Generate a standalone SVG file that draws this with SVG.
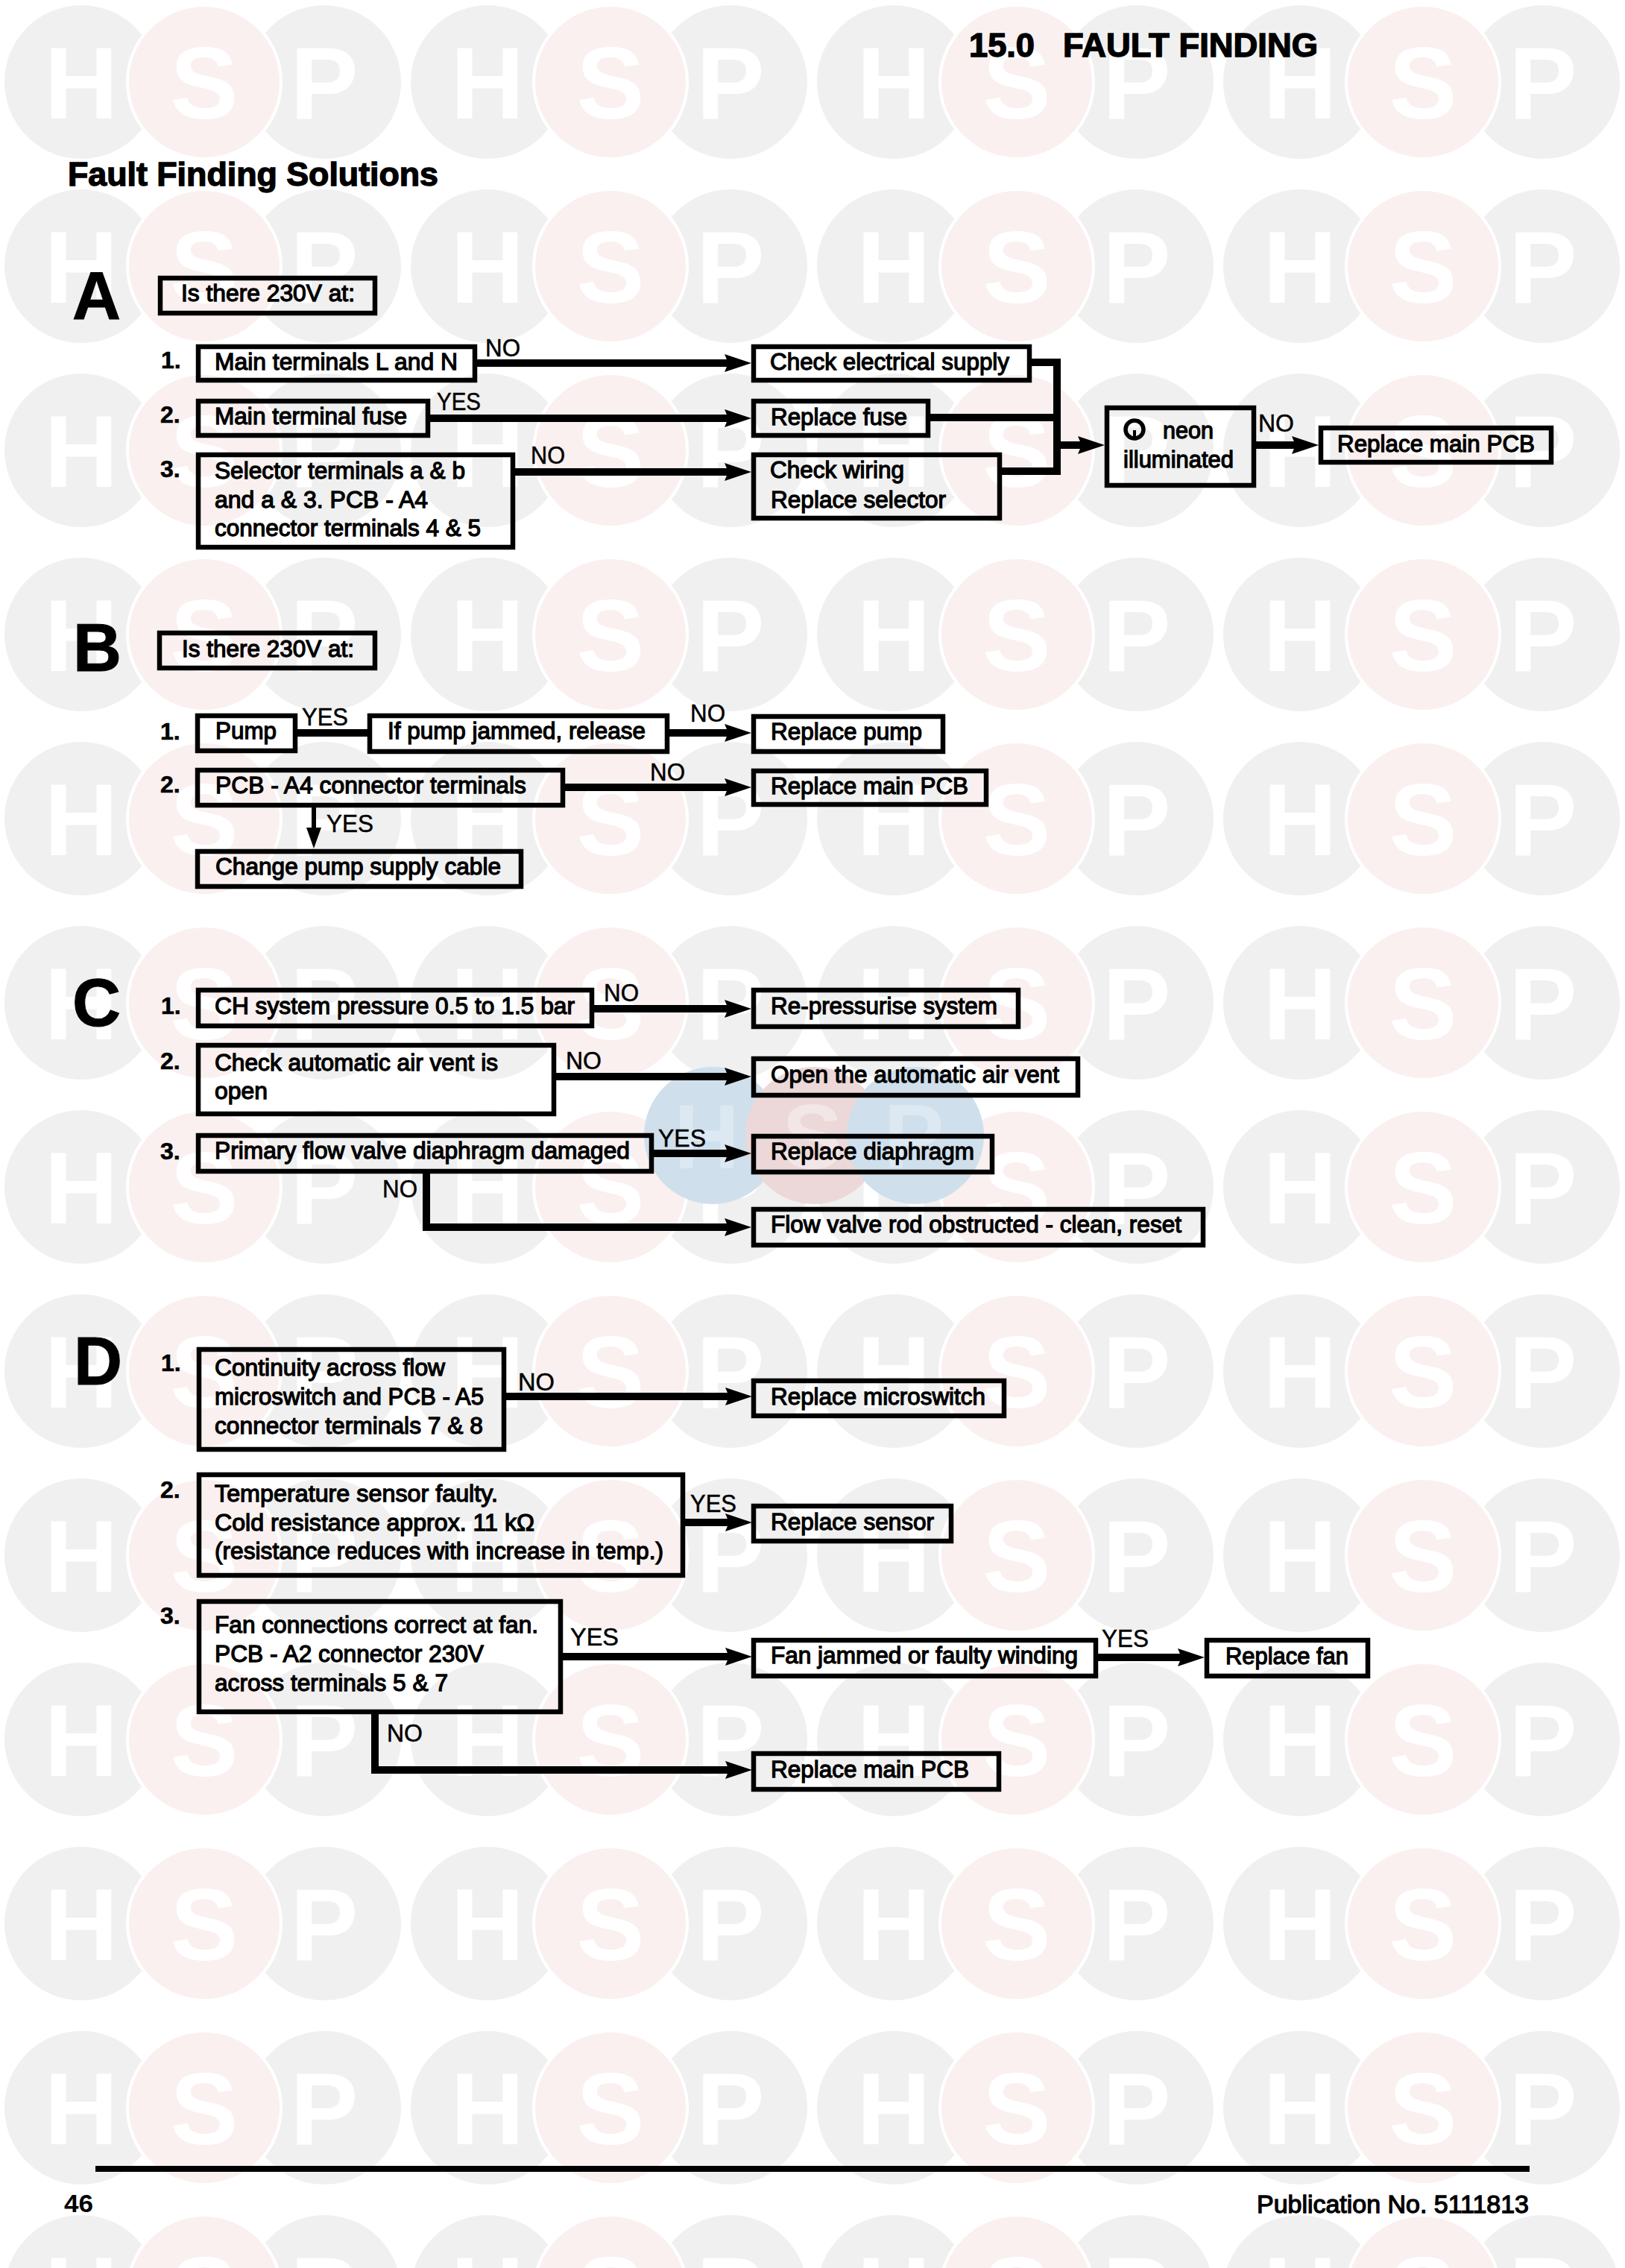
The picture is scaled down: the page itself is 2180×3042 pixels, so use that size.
<svg xmlns="http://www.w3.org/2000/svg" xmlns:xlink="http://www.w3.org/1999/xlink" width="2180" height="3042" viewBox="0 0 2180 3042">
<style>
text{font-family:"Liberation Sans",Arial,sans-serif;fill:#000}
.t{font-size:32px;stroke:#000;stroke-width:1.3px}
.l{font-size:33px;stroke:#000;stroke-width:.5px}
.n{font-size:32px;font-weight:700;stroke:#000;stroke-width:.6px}
.b{font-size:44px;font-weight:700;stroke:#000;stroke-width:1.4px}
.L{font-size:90px;font-weight:700;stroke:#000;stroke-width:1px}
.w{font-size:137px;font-weight:700;fill:#fff;text-anchor:middle}
.box{fill:none;stroke:#000;stroke-width:6.5}
.c{fill:none;stroke:#000;stroke-width:10}
.g{fill:#f0f0f0}
.r{fill:#faf0f0;stroke:#fff;stroke-width:4}
</style>
<defs>
<marker id="a" markerUnits="userSpaceOnUse" markerWidth="36" markerHeight="26" viewBox="0 0 36 26" refX="16" refY="13" orient="auto"><path d="M0 1L36 13L0 25L5 13z" fill="#000"/></marker>
<marker id="d" markerUnits="userSpaceOnUse" markerWidth="28" markerHeight="20" viewBox="0 0 28 20" refX="8" refY="10" orient="auto"><path d="M0 0L28 10L0 20z" fill="#000"/></marker>
<g id="tri"><circle class="g" cx="109" cy="110" r="103"/><circle class="g" cx="435" cy="110" r="103"/><circle class="r" cx="274" cy="110" r="103"/><text class="w" x="109" y="159">H</text><text class="w" x="274" y="159">S</text><text class="w" x="435" y="159">P</text></g>
<g id="row"><use xlink:href="#tri"/><use xlink:href="#tri" x="545"/><use xlink:href="#tri" x="1090"/><use xlink:href="#tri" x="1635"/></g>
</defs>
<rect width="2180" height="3042" fill="#fff"/>
<g id="watermark">
<use xlink:href="#row" y="0"/><use xlink:href="#row" y="247"/><use xlink:href="#row" y="494"/><use xlink:href="#row" y="741"/><use xlink:href="#row" y="988"/><use xlink:href="#row" y="1235"/><use xlink:href="#row" y="1482"/><use xlink:href="#row" y="1729"/><use xlink:href="#row" y="1976"/><use xlink:href="#row" y="2223"/><use xlink:href="#row" y="2470"/><use xlink:href="#row" y="2717"/><use xlink:href="#row" y="2964"/>
<circle cx="956" cy="1523" r="92" fill="#cfdfec"/><circle cx="1092" cy="1523" r="92" fill="#ecd8d8"/><circle cx="1228" cy="1523" r="92" fill="#cfdfec"/>
<text x="948" y="1567" text-anchor="middle" font-size="122" font-weight="700" style="fill:#dce8f2">H</text>
<text x="1090" y="1567" text-anchor="middle" font-size="122" font-weight="700" style="fill:#f2e6e6">S</text>
<text x="1226" y="1567" text-anchor="middle" font-size="122" font-weight="700" style="fill:#dce8f2">P</text>
</g>
<g id="headings">
<text class="b" x="1300" y="76" textLength="88" lengthAdjust="spacingAndGlyphs">15.0</text>
<text class="b" x="1426" y="76" textLength="342" lengthAdjust="spacingAndGlyphs">FAULT FINDING</text>
<text class="b" x="91" y="249" textLength="497" lengthAdjust="spacingAndGlyphs">Fault Finding Solutions</text>
<text class="L" x="97" y="428">A</text><text class="L" x="98" y="900">B</text><text class="L" x="97" y="1376">C</text><text class="L" x="99" y="1857">D</text>
<text class="n" x="216" y="494">1.</text><text class="n" x="215" y="567">2.</text><text class="n" x="215" y="640">3.</text>
<text class="n" x="215" y="992">1.</text><text class="n" x="215" y="1063">2.</text>
<text class="n" x="216" y="1360">1.</text><text class="n" x="215" y="1434">2.</text><text class="n" x="215" y="1555">3.</text>
<text class="n" x="216" y="1839">1.</text><text class="n" x="215" y="2009">2.</text><text class="n" x="215" y="2178">3.</text>
</g>
<g id="connectors">
<path class="c" d="M640 487H988" marker-end="url(#a)"/>
<path class="c" d="M577 561H988" marker-end="url(#a)"/>
<path class="c" d="M691 633H988" marker-end="url(#a)"/>
<path class="c" d="M1382 486H1418V632H1344M1248 560H1418M1418 597H1462" marker-end="url(#a)"/>
<path class="c" d="M1685 597H1749" marker-end="url(#a)"/>
<path class="c" d="M399 983H493"/>
<path class="c" d="M898 983H988" marker-end="url(#a)"/>
<path class="c" d="M758 1056H988" marker-end="url(#a)"/>
<path class="c" style="stroke-width:6" d="M421 1083V1118" marker-end="url(#d)"/>
<path class="c" d="M797 1353H988" marker-end="url(#a)"/>
<path class="c" d="M746 1444H988" marker-end="url(#a)"/>
<path class="c" d="M877 1547H988" marker-end="url(#a)"/>
<path class="c" d="M572 1574V1646H988" marker-end="url(#a)"/>
<path class="c" d="M679 1873H989" marker-end="url(#a)"/>
<path class="c" d="M919 2042H989" marker-end="url(#a)"/>
<path class="c" d="M755 2222H989" marker-end="url(#a)"/>
<path class="c" d="M1472 2223H1596" marker-end="url(#a)"/>
<path class="c" d="M503 2298V2374H989" marker-end="url(#a)"/>
</g>
<g id="edge-labels">
<text class="l" x="651" y="478" textLength="47" lengthAdjust="spacingAndGlyphs">NO</text>
<text class="l" x="586" y="550" textLength="59" lengthAdjust="spacingAndGlyphs">YES</text>
<text class="l" x="712" y="622" textLength="46" lengthAdjust="spacingAndGlyphs">NO</text>
<text class="l" x="1688" y="579" textLength="48" lengthAdjust="spacingAndGlyphs">NO</text>
<text class="l" x="405" y="973" textLength="62" lengthAdjust="spacingAndGlyphs">YES</text>
<text class="l" x="926" y="968" textLength="47" lengthAdjust="spacingAndGlyphs">NO</text>
<text class="l" x="872" y="1047" textLength="47" lengthAdjust="spacingAndGlyphs">NO</text>
<text class="l" x="438" y="1116" textLength="63" lengthAdjust="spacingAndGlyphs">YES</text>
<text class="l" x="810" y="1343" textLength="47" lengthAdjust="spacingAndGlyphs">NO</text>
<text class="l" x="759" y="1434" textLength="48" lengthAdjust="spacingAndGlyphs">NO</text>
<text class="l" x="883" y="1538" textLength="64" lengthAdjust="spacingAndGlyphs">YES</text>
<text class="l" x="513" y="1606" textLength="47" lengthAdjust="spacingAndGlyphs">NO</text>
<text class="l" x="695" y="1865" textLength="49" lengthAdjust="spacingAndGlyphs">NO</text>
<text class="l" x="926" y="2028" textLength="62" lengthAdjust="spacingAndGlyphs">YES</text>
<text class="l" x="765" y="2207" textLength="65" lengthAdjust="spacingAndGlyphs">YES</text>
<text class="l" x="1478" y="2209" textLength="63" lengthAdjust="spacingAndGlyphs">YES</text>
<text class="l" x="519" y="2336" textLength="48" lengthAdjust="spacingAndGlyphs">NO</text>
</g>
<g id="A0"><rect class="box" x="215" y="373" width="288" height="47"/><text class="t" x="243" y="404" textLength="233" lengthAdjust="spacingAndGlyphs">Is there 230V at:</text></g>
<g id="A1"><rect class="box" x="266" y="465" width="371" height="45"/><text class="t" x="288" y="496" textLength="326" lengthAdjust="spacingAndGlyphs">Main terminals L and N</text></g>
<g id="A2"><rect class="box" x="266" y="538" width="308" height="46"/><text class="t" x="288" y="569" textLength="258" lengthAdjust="spacingAndGlyphs">Main terminal fuse</text></g>
<g id="A3"><rect class="box" x="266" y="610" width="422" height="124"/><text class="t" x="288" y="642" textLength="336" lengthAdjust="spacingAndGlyphs">Selector terminals a &amp; b</text><text class="t" x="288" y="681" textLength="286" lengthAdjust="spacingAndGlyphs">and a &amp; 3. PCB - A4</text><text class="t" x="288" y="719" textLength="357" lengthAdjust="spacingAndGlyphs">connector terminals 4 &amp; 5</text></g>
<g id="A1r"><rect class="box" x="1011" y="465" width="370" height="45"/><text class="t" x="1033" y="496" textLength="321" lengthAdjust="spacingAndGlyphs">Check electrical supply</text></g>
<g id="A2r"><rect class="box" x="1011" y="538" width="234" height="46"/><text class="t" x="1034" y="570" textLength="183" lengthAdjust="spacingAndGlyphs">Replace fuse</text></g>
<g id="A3r"><rect class="box" x="1011" y="610" width="330" height="85"/><text class="t" x="1033" y="641" textLength="180" lengthAdjust="spacingAndGlyphs">Check wiring</text><text class="t" x="1034" y="681" textLength="235" lengthAdjust="spacingAndGlyphs">Replace selector</text></g>
<g id="neon"><rect class="box" x="1485" y="547" width="197" height="104"/><circle cx="1522" cy="576" r="12" fill="none" stroke="#000" stroke-width="5.5"/><rect x="1520" y="577" width="4" height="11" fill="#000"/><text class="t" x="1560" y="588" textLength="68" lengthAdjust="spacingAndGlyphs">neon</text><text class="t" x="1507" y="627" textLength="148" lengthAdjust="spacingAndGlyphs">illuminated</text></g>
<g id="Apcb"><rect class="box" x="1772" y="574" width="309" height="46"/><text class="t" x="1794" y="606" textLength="265" lengthAdjust="spacingAndGlyphs">Replace main PCB</text></g>
<g id="B0"><rect class="box" x="214" y="849" width="289" height="47"/><text class="t" x="244" y="881" textLength="231" lengthAdjust="spacingAndGlyphs">Is there 230V at:</text></g>
<g id="B1"><rect class="box" x="265" y="960" width="131" height="47"/><text class="t" x="289" y="991" textLength="82" lengthAdjust="spacingAndGlyphs">Pump</text></g>
<g id="B1m"><rect class="box" x="496" y="960" width="399" height="48"/><text class="t" x="520" y="991" textLength="346" lengthAdjust="spacingAndGlyphs">If pump jammed, release</text></g>
<g id="B1r"><rect class="box" x="1011" y="961" width="254" height="47"/><text class="t" x="1034" y="992" textLength="203" lengthAdjust="spacingAndGlyphs">Replace pump</text></g>
<g id="B2"><rect class="box" x="265" y="1033" width="490" height="47"/><text class="t" x="289" y="1064" textLength="417" lengthAdjust="spacingAndGlyphs">PCB - A4 connector terminals</text></g>
<g id="B2r"><rect class="box" x="1011" y="1034" width="312" height="45"/><text class="t" x="1034" y="1065" textLength="265" lengthAdjust="spacingAndGlyphs">Replace main PCB</text></g>
<g id="B3"><rect class="box" x="265" y="1142" width="434" height="47"/><text class="t" x="289" y="1173" textLength="383" lengthAdjust="spacingAndGlyphs">Change pump supply cable</text></g>
<g id="C1"><rect class="box" x="266" y="1328" width="528" height="48"/><text class="t" x="288" y="1360" textLength="483" lengthAdjust="spacingAndGlyphs">CH system pressure 0.5 to 1.5 bar</text></g>
<g id="C1r"><rect class="box" x="1011" y="1328" width="355" height="49"/><text class="t" x="1034" y="1360" textLength="304" lengthAdjust="spacingAndGlyphs">Re-pressurise system</text></g>
<g id="C2"><rect class="box" x="266" y="1402" width="477" height="92"/><text class="t" x="288" y="1436" textLength="380" lengthAdjust="spacingAndGlyphs">Check automatic air vent is</text><text class="t" x="288" y="1474" textLength="71" lengthAdjust="spacingAndGlyphs">open</text></g>
<g id="C2r"><rect class="box" x="1011" y="1420" width="435" height="49"/><text class="t" x="1034" y="1452" textLength="387" lengthAdjust="spacingAndGlyphs">Open the automatic air vent</text></g>
<g id="C3"><rect class="box" x="266" y="1523" width="608" height="48"/><text class="t" x="288" y="1554" textLength="557" lengthAdjust="spacingAndGlyphs">Primary flow valve diaphragm damaged</text></g>
<g id="C3r"><rect class="box" x="1011" y="1524" width="320" height="48"/><text class="t" x="1034" y="1555" textLength="273" lengthAdjust="spacingAndGlyphs">Replace diaphragm</text></g>
<g id="C3n"><rect class="box" x="1011" y="1622" width="603" height="48"/><text class="t" x="1034" y="1653" textLength="551" lengthAdjust="spacingAndGlyphs">Flow valve rod obstructed - clean, reset</text></g>
<g id="D1"><rect class="box" x="267" y="1810" width="409" height="134"/><text class="t" x="288" y="1845" textLength="309" lengthAdjust="spacingAndGlyphs">Continuity across flow</text><text class="t" x="288" y="1884" textLength="361" lengthAdjust="spacingAndGlyphs">microswitch and PCB - A5</text><text class="t" x="288" y="1923" textLength="360" lengthAdjust="spacingAndGlyphs">connector terminals 7 &amp; 8</text></g>
<g id="D1r"><rect class="box" x="1011" y="1852" width="336" height="47"/><text class="t" x="1034" y="1884" textLength="288" lengthAdjust="spacingAndGlyphs">Replace microswitch</text></g>
<g id="D2"><rect class="box" x="267" y="1978" width="649" height="135"/><text class="t" x="288" y="2014" textLength="380" lengthAdjust="spacingAndGlyphs">Temperature sensor faulty.</text><text class="t" x="288" y="2053" textLength="429" lengthAdjust="spacingAndGlyphs">Cold resistance approx. 11 kΩ</text><text class="t" x="288" y="2091" textLength="602" lengthAdjust="spacingAndGlyphs">(resistance reduces with increase in temp.)</text></g>
<g id="D2r"><rect class="box" x="1011" y="2020" width="265" height="47"/><text class="t" x="1034" y="2052" textLength="219" lengthAdjust="spacingAndGlyphs">Replace sensor</text></g>
<g id="D3"><rect class="box" x="267" y="2148" width="485" height="148"/><text class="t" x="288" y="2190" textLength="434" lengthAdjust="spacingAndGlyphs">Fan connections correct at fan.</text><text class="t" x="288" y="2229" textLength="361" lengthAdjust="spacingAndGlyphs">PCB - A2 connector 230V</text><text class="t" x="288" y="2268" textLength="313" lengthAdjust="spacingAndGlyphs">across terminals 5 &amp; 7</text></g>
<g id="D3r"><rect class="box" x="1011" y="2200" width="459" height="48"/><text class="t" x="1034" y="2231" textLength="412" lengthAdjust="spacingAndGlyphs">Fan jammed or faulty winding</text></g>
<g id="D3f"><rect class="box" x="1619" y="2200" width="216" height="48"/><text class="t" x="1644" y="2232" textLength="165" lengthAdjust="spacingAndGlyphs">Replace fan</text></g>
<g id="D3n"><rect class="box" x="1011" y="2352" width="329" height="48"/><text class="t" x="1034" y="2384" textLength="266" lengthAdjust="spacingAndGlyphs">Replace main PCB</text></g>
<g id="footer">
<rect x="128" y="2905" width="1924" height="8" fill="#000"/>
<text x="86" y="2967" font-size="34" font-weight="700" textLength="39" lengthAdjust="spacingAndGlyphs">46</text>
<text class="t" x="1686" y="2968" style="font-size:34px" textLength="365" lengthAdjust="spacingAndGlyphs">Publication No. 5111813</text>
</g>
</svg>
